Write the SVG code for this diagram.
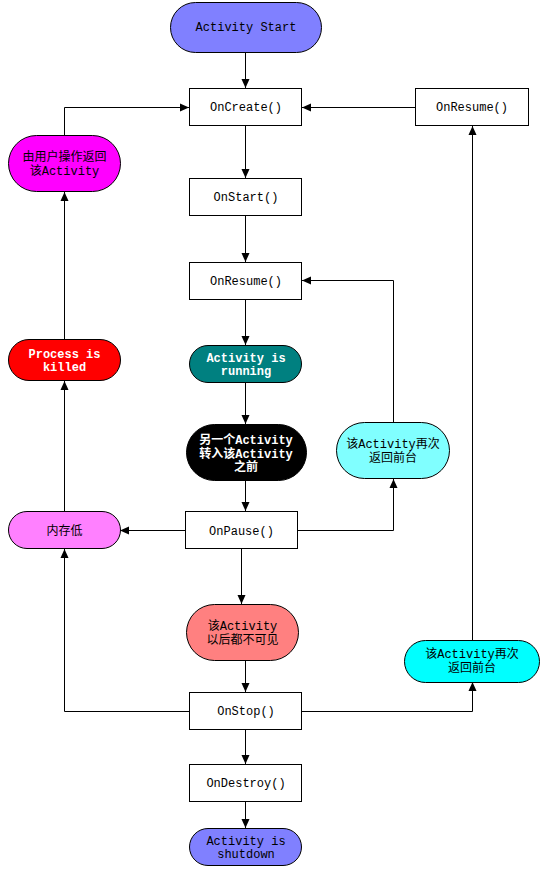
<svg xmlns="http://www.w3.org/2000/svg" width="547" height="879" viewBox="0 0 547 879">
<style>
.box{fill:#fff;stroke:#000;stroke-width:1}
.pill{stroke:#000;stroke-width:1}
.t{font-family:"Liberation Mono","Noto Sans CJK SC",monospace;font-size:12px;fill:#000;text-anchor:middle}
.w{fill:#fff;font-weight:bold;font-size:12px}
.c{fill:none;stroke:#000;stroke-width:1}
</style>
<defs>
<marker id="ah" markerUnits="userSpaceOnUse" markerWidth="10" markerHeight="10" refX="9" refY="5" orient="auto">
<path d="M0,1 L9,5 L0,9 Z" fill="#000"/>
</marker>
</defs>
<rect width="547" height="879" fill="#fff"/>
<g id="connectors">
<path class="c" marker-end="url(#ah)" d="M245.5 53 V88"/>
<path class="c" marker-end="url(#ah)" d="M245.5 126 V178"/>
<path class="c" marker-end="url(#ah)" d="M245.5 216 V262"/>
<path class="c" marker-end="url(#ah)" d="M245.5 299 V345"/>
<path class="c" marker-end="url(#ah)" d="M245.5 383 V424"/>
<path class="c" marker-end="url(#ah)" d="M245.5 481 V511"/>
<path class="c" marker-end="url(#ah)" d="M241.5 549 V604"/>
<path class="c" marker-end="url(#ah)" d="M245.5 661 V692"/>
<path class="c" marker-end="url(#ah)" d="M245.5 729 V764"/>
<path class="c" marker-end="url(#ah)" d="M245.5 802 V828"/>
<path class="c" marker-end="url(#ah)" d="M415 107.5 H302"/>
<path class="c" marker-end="url(#ah)" d="M64.5 136 V107.5 H189"/>
<path class="c" marker-end="url(#ah)" d="M64.5 339 V192"/>
<path class="c" marker-end="url(#ah)" d="M64.5 511 V381"/>
<path class="c" marker-end="url(#ah)" d="M189 711.5 H64.5 V549"/>
<path class="c" marker-end="url(#ah)" d="M185 530.5 H120"/>
<path class="c" marker-end="url(#ah)" d="M298 530.5 H393.5 V479"/>
<path class="c" marker-end="url(#ah)" d="M393.5 422 V280.5 H302"/>
<path class="c" marker-end="url(#ah)" d="M302 711.5 H472.5 V682"/>
<path class="c" marker-end="url(#ah)" d="M472.5 640 V126"/>
</g>
<g id="activity-start">
<rect class="pill" x="170.5" y="2.5" width="151" height="50" rx="25" fill="#8080ff"/>
<text class="t" x="246" y="31">Activity Start</text>
</g>
<g id="oncreate">
<rect class="box" x="189.5" y="88.5" width="112" height="37"/>
<text class="t" x="246" y="111">OnCreate()</text>
</g>
<g id="onresume-right">
<rect class="box" x="415.5" y="88.5" width="113" height="37"/>
<text class="t" x="472" y="111">OnResume()</text>
</g>
<g id="user-return">
<rect class="pill" x="8.5" y="135.5" width="112" height="56" rx="28" fill="#ff00ff"/>
<text class="t" x="64.5" y="161">由用户操作返回</text>
<text class="t" x="64.5" y="175">该Activity</text>
</g>
<g id="onstart">
<rect class="box" x="189.5" y="178.5" width="112" height="37"/>
<text class="t" x="246" y="201">OnStart()</text>
</g>
<g id="onresume-mid">
<rect class="box" x="189.5" y="262.5" width="112" height="37"/>
<text class="t" x="246" y="285">OnResume()</text>
</g>
<g id="process-killed">
<rect class="pill" x="8.5" y="339.5" width="112" height="41" rx="20.5" fill="#ff0000"/>
<text class="t w" x="64.5" y="357.5">Process is</text>
<text class="t w" x="64.5" y="371">killed</text>
</g>
<g id="activity-running">
<rect class="pill" x="189.5" y="345.5" width="112" height="37" rx="18.5" fill="#008080"/>
<text class="t w" x="246" y="361.5">Activity is</text>
<text class="t w" x="246" y="375">running</text>
</g>
<g id="another-activity">
<rect class="pill" x="186.5" y="424.5" width="120" height="56" rx="28" fill="#000"/>
<text class="t w" x="246" y="444">另一个Activity</text>
<text class="t w" x="246" y="457.5">转入该Activity</text>
<text class="t w" x="246" y="471">之前</text>
</g>
<g id="return-front-1">
<rect class="pill" x="336.5" y="422.5" width="113" height="56" rx="28" fill="#80ffff"/>
<text class="t" x="393" y="448">该Activity再次</text>
<text class="t" x="393" y="461.5">返回前台</text>
</g>
<g id="low-memory">
<rect class="pill" x="8.5" y="511.5" width="112" height="37" rx="18.5" fill="#ff80ff"/>
<text class="t" x="64.5" y="534.5">内存低</text>
</g>
<g id="onpause">
<rect class="box" x="185.5" y="511.5" width="112" height="37"/>
<text class="t" x="241.5" y="534.5">OnPause()</text>
</g>
<g id="invisible">
<rect class="pill" x="186.5" y="604.5" width="112" height="56" rx="28" fill="#ff8080"/>
<text class="t" x="242.5" y="630">该Activity</text>
<text class="t" x="242.5" y="643.5">以后都不可见</text>
</g>
<g id="return-front-2">
<rect class="pill" x="404.5" y="640.5" width="135" height="42" rx="21" fill="#00ffff"/>
<text class="t" x="472" y="658">该Activity再次</text>
<text class="t" x="472" y="671.5">返回前台</text>
</g>
<g id="onstop">
<rect class="box" x="189.5" y="692.5" width="112" height="37"/>
<text class="t" x="246" y="715">OnStop()</text>
</g>
<g id="ondestroy">
<rect class="box" x="189.5" y="764.5" width="112" height="37"/>
<text class="t" x="246" y="787">OnDestroy()</text>
</g>
<g id="activity-shutdown">
<rect class="pill" x="189.5" y="828.5" width="112" height="37" rx="18.5" fill="#8080ff"/>
<text class="t" x="246" y="844.5">Activity is</text>
<text class="t" x="246" y="858">shutdown</text>
</g>
</svg>
